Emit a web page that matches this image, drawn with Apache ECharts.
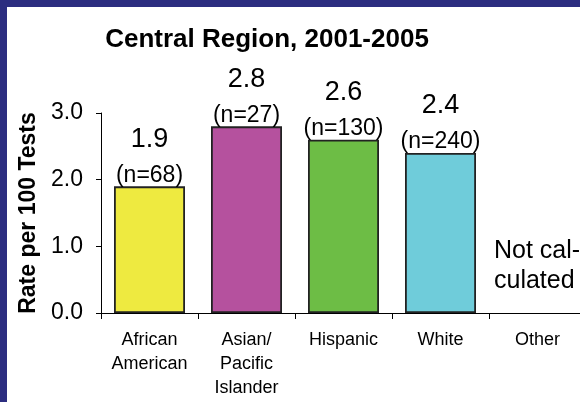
<!DOCTYPE html>
<html>
<head>
<meta charset="utf-8">
<script src="https://cdn.jsdelivr.net/npm/echarts@6/dist/echarts.min.js"></script>
<style>
  html, body { margin: 0; padding: 0; background: #fff; }
  #chart { width: 580px; height: 402px; }
</style>
</head>
<body>
<div id="chart"></div>
<script>
const categories = ['African\nAmerican', 'Asian/\nPacific\nIslander', 'Hispanic', 'White', 'Other']
const rates = [1.9, 2.8, 2.6, 2.4, null]
const counts = [68, 27, 130, 240, null]
const barColors = ['#eeea40', '#b5519e', '#6dbd45', '#6fccda', '#ffffff']
const yTicks = [0, 1, 2, 3]

const chart = echarts.init(document.getElementById('chart'))

chart.setOption({
  animation: false,
  textStyle: { fontFamily: 'Liberation Sans, Arial, sans-serif', color: '#000' },
  title: {
    text: 'Central Region, 2001-2005',
    left: 262,
    textAlign: 'center',
    top: 22,
    textStyle: { fontSize: 26, fontWeight: 'bold', color: '#000' }
  },
  // blue frame at top and left
  graphic: [
    { type: 'rect', left: 0, top: 0, shape: { width: 580, height: 7 }, style: { fill: '#2c2d80' }, z: 100 },
    { type: 'rect', left: 0, top: 0, shape: { width: 7, height: 402 }, style: { fill: '#2c2d80' }, z: 100 },
    {
      type: 'text',
      left: 494,
      top: 236,
      style: {
        text: 'Not cal-\nculated',
        font: '25px "Liberation Sans", Arial, sans-serif',
        lineHeight: 30,
        fill: '#000',
        align: 'center'
      }
    }
  ],
  grid: {
    left: 101,
    top: 113,
    width: 485,
    height: 200,
    outerBoundsMode: 'none'
  },
  xAxis: {
    type: 'category',
    data: categories,
    axisLine: { lineStyle: { color: '#000', width: 1 } },
    axisTick: { show: true, length: 6, lineStyle: { color: '#000' } },
    axisLabel: {
      fontSize: 18,
      lineHeight: 24,
      color: '#000',
      margin: 15,
      interval: 0
    }
  },
  yAxis: {
    type: 'value',
    min: yTicks[0],
    max: yTicks[yTicks.length - 1],
    interval: 1,
    name: 'Rate per 100 Tests',
    nameLocation: 'middle',
    nameGap: 60,
    nameTextStyle: { fontSize: 23, fontWeight: 'bold', color: '#000' },
    splitLine: { show: false },
    axisLine: { show: true, lineStyle: { color: '#000', width: 1 } },
    axisTick: { show: true, length: 5, lineStyle: { color: '#000' } },
    axisLabel: {
      fontSize: 23,
      color: '#000',
      margin: 18,
      formatter: v => v.toFixed(1)
    }
  },
  series: [{
    type: 'bar',
    barWidth: 71,
    data: rates.map((v, i) => ({
      value: v,
      itemStyle: { color: barColors[i] }
    })),
    itemStyle: { borderColor: '#222', borderWidth: 1.8 },
    label: {
      show: true,
      position: 'top',
      distance: 0,
      formatter: p => p.value == null ? '' : '{a|' + p.value.toFixed(1) + '}\n{b|(n=' + counts[p.dataIndex] + ')}',
      rich: {
        a: { fontSize: 27, lineHeight: 50, color: '#000' },
        b: { fontSize: 23, lineHeight: 22, color: '#000' }
      }
    }
  }]
})
</script>
</body>
</html>
